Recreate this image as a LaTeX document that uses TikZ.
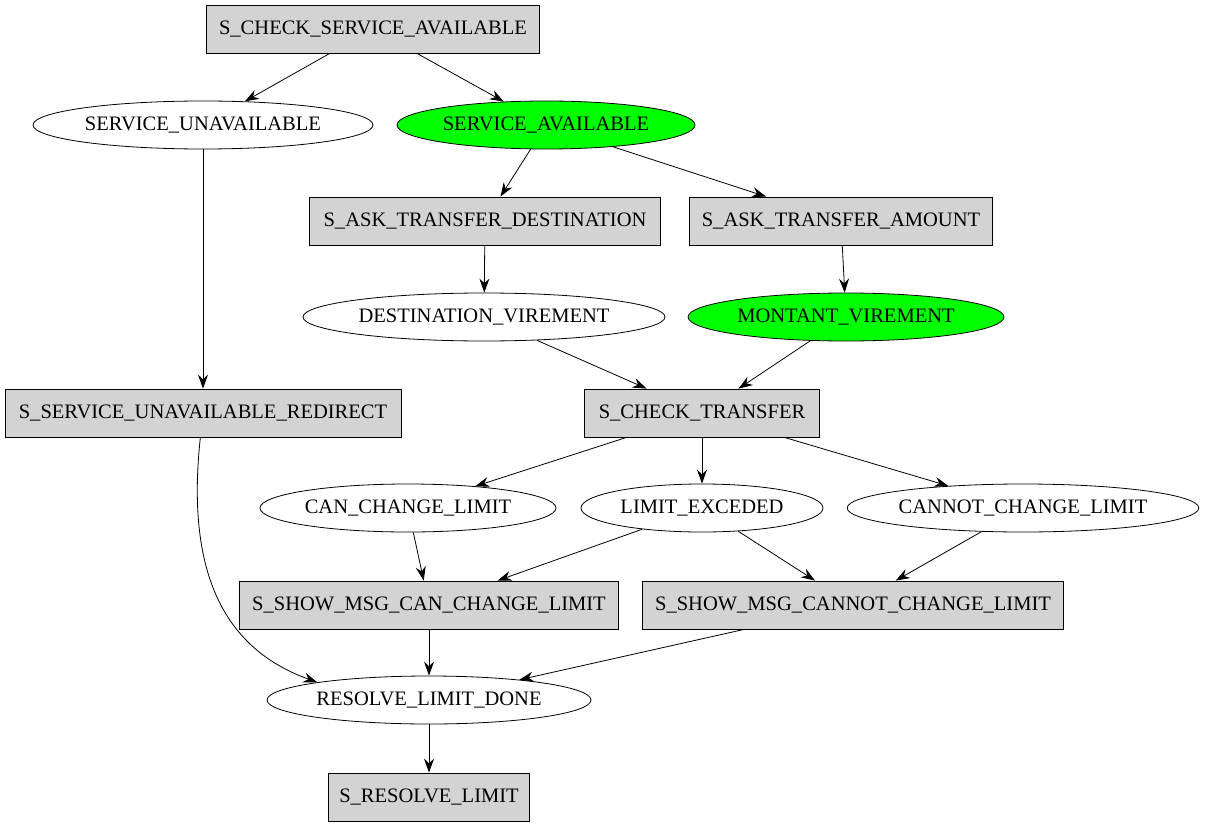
\documentclass[tikz,border=0pt]{standalone}
\usepackage{fontspec}
\setmainfont{Liberation Serif}
\usetikzlibrary{arrows.meta,shapes.geometric}
\definecolor{boxgray}{HTML}{D3D3D3}
\definecolor{okgreen}{HTML}{00FF00}

\begin{document}
\begin{tikzpicture}[x=0.75pt,y=-0.75pt,
        state/.style={draw,fill=boxgray,rectangle,minimum height=36pt,inner sep=0pt,font=\fontsize{15.4pt}{17pt}\selectfont},
        event/.style={draw,ellipse,minimum height=36pt,inner sep=0pt,font=\fontsize{15.4pt}{17pt}\selectfont},
        ok/.style={event,fill=okgreen},
        every path/.style={line width=0.6pt},
        >={Stealth[length=10.5pt,width=7.5pt,inset=3.5pt]}]
        \useasboundingbox (0,0) rectangle (1205,827);
        % states and events
        \node[state,minimum width=249.75pt] (scsa) at (373,29) {S\_CHECK\_SERVICE\_AVAILABLE};
        \node[event,minimum width=255pt] (su) at (203,125) {SERVICE\_UNAVAILABLE};
        \node[ok,minimum width=223.5pt] (sa) at (546,125) {SERVICE\_AVAILABLE};
        \node[state,minimum width=263.25pt] (satd) at (485,221) {S\_ASK\_TRANSFER\_DESTINATION};
        \node[state,minimum width=227.25pt] (sata) at (841,221) {S\_ASK\_TRANSFER\_AMOUNT};
        \node[event,minimum width=271.5pt] (dv) at (484,317) {DESTINATION\_VIREMENT};
        \node[ok,minimum width=237pt] (mv) at (846,317) {MONTANT\_VIREMENT};
        \node[state,minimum width=297pt] (ssur) at (203,413) {S\_SERVICE\_UNAVAILABLE\_REDIRECT};
        \node[state,minimum width=176.25pt] (sct) at (702,413) {S\_CHECK\_TRANSFER};
        \node[event,minimum width=222pt] (ccl) at (408,508) {CAN\_CHANGE\_LIMIT};
        \node[event,minimum width=181.5pt] (le) at (702,508) {LIMIT\_EXCEDED};
        \node[event,minimum width=262.5pt] (cncl) at (1023,508) {CANNOT\_CHANGE\_LIMIT};
        \node[state,minimum width=284.25pt] (smccl) at (429,605) {S\_SHOW\_MSG\_CAN\_CHANGE\_LIMIT};
        \node[state,minimum width=315.75pt] (smcncl) at (853,605) {S\_SHOW\_MSG\_CANNOT\_CHANGE\_LIMIT};
        \node[event,minimum width=243pt] (rld) at (429,700) {RESOLVE\_LIMIT\_DONE};
        \node[state,minimum width=150.75pt] (srl) at (429,797) {S\_RESOLVE\_LIMIT};
        % transitions
        \foreach \From/\To in {scsa/su, scsa/sa, su/ssur, sa/satd, sa/sata, satd/dv, sata/mv,
                dv/sct, mv/sct, sct/ccl, sct/le, sct/cncl, ccl/smccl, le/smccl, le/smcncl,
                cncl/smcncl, smccl/rld, smcncl/rld, rld/srl}
        \draw[->] (\From) -- (\To);
        \draw[->] (ssur) .. controls (186,570) and (222,648) .. (rld.171);
\end{tikzpicture}
\end{document}
